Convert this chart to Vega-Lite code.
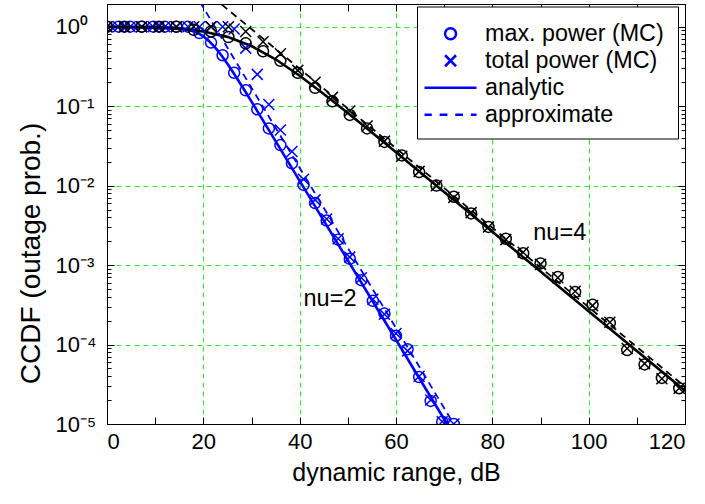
{
  "$schema": "https://vega.github.io/schema/vega-lite/v6.json",
  "width": 578,
  "height": 420,
  "autosize": {"type": "none"},
  "padding": {"left": 107, "top": 4, "right": 20, "bottom": 80},
  "background": "white",
  "config": {
    "font": "Liberation Sans",
    "view": {"stroke": "black", "strokeWidth": 1},
    "axis": {
      "domainColor": "black", "domainWidth": 1, "tickColor": "black", "tickWidth": 1,
      "labelColor": "black", "titleColor": "black", "labelFont": "Liberation Sans", "titleFont": "Liberation Sans",
      "titleFontWeight": "normal", "labelFontSize": 22, "titleFontSize": 25,
      "gridColor": "#2ee82e", "gridDash": [5, 4], "gridWidth": 1, "labelOverlap": false
    }
  },
  "datasets": {
    "curves": [
      {"nu": "nu=2", "type": "analytic", "x": 0, "p": 1.0},
      {"nu": "nu=2", "type": "analytic", "x": 10, "p": 0.99623},
      {"nu": "nu=2", "type": "analytic", "x": 14, "p": 0.9769},
      {"nu": "nu=2", "type": "analytic", "x": 16, "p": 0.9449},
      {"nu": "nu=2", "type": "analytic", "x": 18, "p": 0.8764},
      {"nu": "nu=2", "type": "analytic", "x": 19, "p": 0.8223},
      {"nu": "nu=2", "type": "analytic", "x": 20, "p": 0.7541},
      {"nu": "nu=2", "type": "analytic", "x": 21, "p": 0.6739},
      {"nu": "nu=2", "type": "analytic", "x": 22, "p": 0.5867},
      {"nu": "nu=2", "type": "analytic", "x": 23, "p": 0.4988},
      {"nu": "nu=2", "type": "analytic", "x": 24, "p": 0.4157},
      {"nu": "nu=2", "type": "analytic", "x": 25, "p": 0.3413},
      {"nu": "nu=2", "type": "analytic", "x": 26, "p": 0.2771},
      {"nu": "nu=2", "type": "analytic", "x": 27, "p": 0.2233},
      {"nu": "nu=2", "type": "analytic", "x": 28, "p": 0.1791},
      {"nu": "nu=2", "type": "analytic", "x": 29, "p": 0.143},
      {"nu": "nu=2", "type": "analytic", "x": 30, "p": 0.114},
      {"nu": "nu=2", "type": "analytic", "x": 32, "p": 0.07228},
      {"nu": "nu=2", "type": "analytic", "x": 35, "p": 0.03631},
      {"nu": "nu=2", "type": "analytic", "x": 40, "p": 0.01148},
      {"nu": "nu=2", "type": "analytic", "x": 45, "p": 0.003631},
      {"nu": "nu=2", "type": "analytic", "x": 50, "p": 0.001148},
      {"nu": "nu=2", "type": "analytic", "x": 55, "p": 0.0003631},
      {"nu": "nu=2", "type": "analytic", "x": 60, "p": 0.0001148},
      {"nu": "nu=2", "type": "analytic", "x": 65, "p": 0.00003631},
      {"nu": "nu=2", "type": "analytic", "x": 70, "p": 0.00001148},
      {"nu": "nu=2", "type": "analytic", "x": 72, "p": 0.00000724},
      {"nu": "nu=2", "type": "approximate", "x": 18, "p": 2.765},
      {"nu": "nu=2", "type": "approximate", "x": 75, "p": 0.00000497},
      {"nu": "nu=4", "type": "analytic", "x": 0, "p": 0.99508},
      {"nu": "nu=4", "type": "analytic", "x": 10, "p": 0.9731},
      {"nu": "nu=4", "type": "analytic", "x": 15, "p": 0.9391},
      {"nu": "nu=4", "type": "analytic", "x": 20, "p": 0.869},
      {"nu": "nu=4", "type": "analytic", "x": 25, "p": 0.7447},
      {"nu": "nu=4", "type": "analytic", "x": 30, "p": 0.5709},
      {"nu": "nu=4", "type": "analytic", "x": 35, "p": 0.3888},
      {"nu": "nu=4", "type": "analytic", "x": 40, "p": 0.2416},
      {"nu": "nu=4", "type": "analytic", "x": 45, "p": 0.1426},
      {"nu": "nu=4", "type": "analytic", "x": 50, "p": 0.08184},
      {"nu": "nu=4", "type": "analytic", "x": 55, "p": 0.04646},
      {"nu": "nu=4", "type": "analytic", "x": 60, "p": 0.02623},
      {"nu": "nu=4", "type": "analytic", "x": 65, "p": 0.01477},
      {"nu": "nu=4", "type": "analytic", "x": 70, "p": 0.008313},
      {"nu": "nu=4", "type": "analytic", "x": 80, "p": 0.00263},
      {"nu": "nu=4", "type": "analytic", "x": 100, "p": 0.000263},
      {"nu": "nu=4", "type": "analytic", "x": 120, "p": 0.0000263},
      {"nu": "nu=4", "type": "approximate", "x": 20, "p": 2.951},
      {"nu": "nu=4", "type": "approximate", "x": 120, "p": 0.00002951}
    ],
    "mc": [
      {"nu": "nu=2", "series": "max. power (MC)", "x": 0, "p": 1},
      {"nu": "nu=2", "series": "max. power (MC)", "x": 2.4, "p": 1},
      {"nu": "nu=2", "series": "max. power (MC)", "x": 4.8, "p": 1},
      {"nu": "nu=2", "series": "max. power (MC)", "x": 7.2, "p": 1},
      {"nu": "nu=2", "series": "max. power (MC)", "x": 9.6, "p": 1},
      {"nu": "nu=2", "series": "max. power (MC)", "x": 12, "p": 1},
      {"nu": "nu=2", "series": "max. power (MC)", "x": 14.4, "p": 1},
      {"nu": "nu=2", "series": "max. power (MC)", "x": 16.8, "p": 1},
      {"nu": "nu=2", "series": "max. power (MC)", "x": 19.2, "p": 0.832},
      {"nu": "nu=2", "series": "max. power (MC)", "x": 21.6, "p": 0.631},
      {"nu": "nu=2", "series": "max. power (MC)", "x": 24, "p": 0.437},
      {"nu": "nu=2", "series": "max. power (MC)", "x": 26.4, "p": 0.263},
      {"nu": "nu=2", "series": "max. power (MC)", "x": 28.8, "p": 0.158},
      {"nu": "nu=2", "series": "max. power (MC)", "x": 31.2, "p": 0.0912},
      {"nu": "nu=2", "series": "max. power (MC)", "x": 33.6, "p": 0.0525},
      {"nu": "nu=2", "series": "max. power (MC)", "x": 36, "p": 0.0324},
      {"nu": "nu=2", "series": "max. power (MC)", "x": 38.4, "p": 0.0191},
      {"nu": "nu=2", "series": "max. power (MC)", "x": 40.8, "p": 0.0102},
      {"nu": "nu=2", "series": "max. power (MC)", "x": 43.2, "p": 0.00603},
      {"nu": "nu=2", "series": "max. power (MC)", "x": 45.6, "p": 0.00363},
      {"nu": "nu=2", "series": "max. power (MC)", "x": 48, "p": 0.00209},
      {"nu": "nu=2", "series": "max. power (MC)", "x": 50.4, "p": 0.0012},
      {"nu": "nu=2", "series": "max. power (MC)", "x": 52.8, "p": 0.000646},
      {"nu": "nu=2", "series": "max. power (MC)", "x": 55.2, "p": 0.000355},
      {"nu": "nu=2", "series": "max. power (MC)", "x": 57.6, "p": 0.000245},
      {"nu": "nu=2", "series": "max. power (MC)", "x": 60, "p": 0.000129},
      {"nu": "nu=2", "series": "max. power (MC)", "x": 62.4, "p": 0.0000871},
      {"nu": "nu=2", "series": "max. power (MC)", "x": 64.8, "p": 0.0000389},
      {"nu": "nu=2", "series": "max. power (MC)", "x": 67.2, "p": 0.0000195},
      {"nu": "nu=2", "series": "max. power (MC)", "x": 69.6, "p": 0.0000107},
      {"nu": "nu=2", "series": "max. power (MC)", "x": 72, "p": 0.00001},
      {"nu": "nu=2", "series": "total power (MC)", "x": 0, "p": 1},
      {"nu": "nu=2", "series": "total power (MC)", "x": 2.4, "p": 1},
      {"nu": "nu=2", "series": "total power (MC)", "x": 4.8, "p": 1},
      {"nu": "nu=2", "series": "total power (MC)", "x": 7.2, "p": 1},
      {"nu": "nu=2", "series": "total power (MC)", "x": 9.6, "p": 1},
      {"nu": "nu=2", "series": "total power (MC)", "x": 12, "p": 1},
      {"nu": "nu=2", "series": "total power (MC)", "x": 14.4, "p": 1},
      {"nu": "nu=2", "series": "total power (MC)", "x": 16.8, "p": 1},
      {"nu": "nu=2", "series": "total power (MC)", "x": 19.2, "p": 1},
      {"nu": "nu=2", "series": "total power (MC)", "x": 21.6, "p": 1},
      {"nu": "nu=2", "series": "total power (MC)", "x": 24, "p": 1},
      {"nu": "nu=2", "series": "total power (MC)", "x": 26.4, "p": 0.933},
      {"nu": "nu=2", "series": "total power (MC)", "x": 28.8, "p": 0.537},
      {"nu": "nu=2", "series": "total power (MC)", "x": 31.2, "p": 0.251},
      {"nu": "nu=2", "series": "total power (MC)", "x": 33.6, "p": 0.105},
      {"nu": "nu=2", "series": "total power (MC)", "x": 36, "p": 0.0501},
      {"nu": "nu=2", "series": "total power (MC)", "x": 38.4, "p": 0.0269},
      {"nu": "nu=2", "series": "total power (MC)", "x": 40.8, "p": 0.012},
      {"nu": "nu=2", "series": "total power (MC)", "x": 43.2, "p": 0.00661},
      {"nu": "nu=2", "series": "total power (MC)", "x": 45.6, "p": 0.0038},
      {"nu": "nu=2", "series": "total power (MC)", "x": 48, "p": 0.00214},
      {"nu": "nu=2", "series": "total power (MC)", "x": 50.4, "p": 0.00126},
      {"nu": "nu=2", "series": "total power (MC)", "x": 52.8, "p": 0.000692},
      {"nu": "nu=2", "series": "total power (MC)", "x": 55.2, "p": 0.000372},
      {"nu": "nu=2", "series": "total power (MC)", "x": 57.6, "p": 0.00024},
      {"nu": "nu=2", "series": "total power (MC)", "x": 60, "p": 0.000138},
      {"nu": "nu=2", "series": "total power (MC)", "x": 62.4, "p": 0.0000832},
      {"nu": "nu=2", "series": "total power (MC)", "x": 64.8, "p": 0.0000398},
      {"nu": "nu=2", "series": "total power (MC)", "x": 67.2, "p": 0.00002},
      {"nu": "nu=2", "series": "total power (MC)", "x": 69.6, "p": 0.0000107},
      {"nu": "nu=2", "series": "total power (MC)", "x": 72, "p": 0.00001},
      {"nu": "nu=4", "series": "max. power (MC)", "x": 0, "p": 1},
      {"nu": "nu=4", "series": "max. power (MC)", "x": 3.6, "p": 1},
      {"nu": "nu=4", "series": "max. power (MC)", "x": 7.2, "p": 1},
      {"nu": "nu=4", "series": "max. power (MC)", "x": 10.8, "p": 1},
      {"nu": "nu=4", "series": "max. power (MC)", "x": 14.4, "p": 1},
      {"nu": "nu=4", "series": "max. power (MC)", "x": 18, "p": 0.912},
      {"nu": "nu=4", "series": "max. power (MC)", "x": 21.6, "p": 0.871},
      {"nu": "nu=4", "series": "max. power (MC)", "x": 25.2, "p": 0.741},
      {"nu": "nu=4", "series": "max. power (MC)", "x": 28.8, "p": 0.617},
      {"nu": "nu=4", "series": "max. power (MC)", "x": 32.4, "p": 0.49},
      {"nu": "nu=4", "series": "max. power (MC)", "x": 36, "p": 0.372},
      {"nu": "nu=4", "series": "max. power (MC)", "x": 39.6, "p": 0.263},
      {"nu": "nu=4", "series": "max. power (MC)", "x": 43.2, "p": 0.17},
      {"nu": "nu=4", "series": "max. power (MC)", "x": 46.8, "p": 0.115},
      {"nu": "nu=4", "series": "max. power (MC)", "x": 50.4, "p": 0.0776},
      {"nu": "nu=4", "series": "max. power (MC)", "x": 54, "p": 0.0525},
      {"nu": "nu=4", "series": "max. power (MC)", "x": 57.6, "p": 0.0355},
      {"nu": "nu=4", "series": "max. power (MC)", "x": 61.2, "p": 0.024},
      {"nu": "nu=4", "series": "max. power (MC)", "x": 64.8, "p": 0.0148},
      {"nu": "nu=4", "series": "max. power (MC)", "x": 68.4, "p": 0.01},
      {"nu": "nu=4", "series": "max. power (MC)", "x": 72, "p": 0.00724},
      {"nu": "nu=4", "series": "max. power (MC)", "x": 75.6, "p": 0.00447},
      {"nu": "nu=4", "series": "max. power (MC)", "x": 79.2, "p": 0.00302},
      {"nu": "nu=4", "series": "max. power (MC)", "x": 82.8, "p": 0.00214},
      {"nu": "nu=4", "series": "max. power (MC)", "x": 86.4, "p": 0.00141},
      {"nu": "nu=4", "series": "max. power (MC)", "x": 90, "p": 0.00105},
      {"nu": "nu=4", "series": "max. power (MC)", "x": 93.6, "p": 0.000708},
      {"nu": "nu=4", "series": "max. power (MC)", "x": 97.2, "p": 0.000457},
      {"nu": "nu=4", "series": "max. power (MC)", "x": 100.8, "p": 0.000316},
      {"nu": "nu=4", "series": "max. power (MC)", "x": 104.4, "p": 0.000186},
      {"nu": "nu=4", "series": "max. power (MC)", "x": 108, "p": 0.0000851},
      {"nu": "nu=4", "series": "max. power (MC)", "x": 111.6, "p": 0.0000562},
      {"nu": "nu=4", "series": "max. power (MC)", "x": 115.2, "p": 0.000038},
      {"nu": "nu=4", "series": "max. power (MC)", "x": 118.8, "p": 0.0000282},
      {"nu": "nu=4", "series": "total power (MC)", "x": 0, "p": 1},
      {"nu": "nu=4", "series": "total power (MC)", "x": 3.6, "p": 1},
      {"nu": "nu=4", "series": "total power (MC)", "x": 7.2, "p": 1},
      {"nu": "nu=4", "series": "total power (MC)", "x": 10.8, "p": 1},
      {"nu": "nu=4", "series": "total power (MC)", "x": 14.4, "p": 1},
      {"nu": "nu=4", "series": "total power (MC)", "x": 18, "p": 1},
      {"nu": "nu=4", "series": "total power (MC)", "x": 21.6, "p": 1},
      {"nu": "nu=4", "series": "total power (MC)", "x": 25.2, "p": 1},
      {"nu": "nu=4", "series": "total power (MC)", "x": 28.8, "p": 0.871},
      {"nu": "nu=4", "series": "total power (MC)", "x": 32.4, "p": 0.646},
      {"nu": "nu=4", "series": "total power (MC)", "x": 36, "p": 0.457},
      {"nu": "nu=4", "series": "total power (MC)", "x": 39.6, "p": 0.282},
      {"nu": "nu=4", "series": "total power (MC)", "x": 43.2, "p": 0.2},
      {"nu": "nu=4", "series": "total power (MC)", "x": 46.8, "p": 0.129},
      {"nu": "nu=4", "series": "total power (MC)", "x": 50.4, "p": 0.0871},
      {"nu": "nu=4", "series": "total power (MC)", "x": 54, "p": 0.0562},
      {"nu": "nu=4", "series": "total power (MC)", "x": 57.6, "p": 0.0363},
      {"nu": "nu=4", "series": "total power (MC)", "x": 61.2, "p": 0.0234},
      {"nu": "nu=4", "series": "total power (MC)", "x": 64.8, "p": 0.0151},
      {"nu": "nu=4", "series": "total power (MC)", "x": 68.4, "p": 0.01},
      {"nu": "nu=4", "series": "total power (MC)", "x": 72, "p": 0.00708},
      {"nu": "nu=4", "series": "total power (MC)", "x": 75.6, "p": 0.00457},
      {"nu": "nu=4", "series": "total power (MC)", "x": 79.2, "p": 0.00302},
      {"nu": "nu=4", "series": "total power (MC)", "x": 82.8, "p": 0.00209},
      {"nu": "nu=4", "series": "total power (MC)", "x": 86.4, "p": 0.00145},
      {"nu": "nu=4", "series": "total power (MC)", "x": 90, "p": 0.00102},
      {"nu": "nu=4", "series": "total power (MC)", "x": 93.6, "p": 0.000692},
      {"nu": "nu=4", "series": "total power (MC)", "x": 97.2, "p": 0.000468},
      {"nu": "nu=4", "series": "total power (MC)", "x": 100.8, "p": 0.000309},
      {"nu": "nu=4", "series": "total power (MC)", "x": 104.4, "p": 0.000191},
      {"nu": "nu=4", "series": "total power (MC)", "x": 108, "p": 0.0000891},
      {"nu": "nu=4", "series": "total power (MC)", "x": 111.6, "p": 0.0000575},
      {"nu": "nu=4", "series": "total power (MC)", "x": 115.2, "p": 0.0000372},
      {"nu": "nu=4", "series": "total power (MC)", "x": 118.8, "p": 0.0000282}
    ],
    "notes": [
      {"x": 46.3, "p": 0.00037, "label": "nu=2"},
      {"x": 94.0, "p": 0.00254, "label": "nu=4"}
    ]
  },
  "layer": [
    {
      "data": {"name": "curves"},
      "transform": [{"filter": "datum.type === 'analytic'"}],
      "mark": {"type": "line", "strokeWidth": 2.6, "clip": true},
      "encoding": {
        "x": {
          "field": "x", "type": "quantitative",
          "scale": {"domain": [0, 120], "nice": false, "zero": false},
          "axis": {
            "orient": "bottom",
            "values": [0, 10, 20, 30, 40, 50, 60, 70, 80, 90, 100, 110, 120],
            "labelExpr": "datum.value % 20 === 0 ? datum.label : ''",
            "labelFontSize": 22,
            "grid": true,
            "gridOpacity": {"condition": {"test": "datum.value % 20 === 0 && datum.value > 0 && datum.value < 120", "value": 1}, "value": 0},
            "tickSize": -7,
            "labelPadding": 14,
            "title": "dynamic range, dB",
            "titleY": 56,
            "titleBaseline": "alphabetic"
          }
        },
        "y": {
          "field": "p", "type": "quantitative",
          "scale": {"type": "log", "domain": [0.00001, 1.93], "nice": false},
          "axis": {
            "orient": "left",
            "values": [0.00001, 0.00002, 0.00003, 0.00004, 0.00005, 0.00006, 0.00007, 0.00008, 0.00009, 0.0001, 0.0002, 0.0003, 0.0004, 0.0005, 0.0006, 0.0007, 0.0008, 0.0009, 0.001, 0.002, 0.003, 0.004, 0.005, 0.006, 0.007, 0.008, 0.009, 0.01, 0.02, 0.03, 0.04, 0.05, 0.06, 0.07, 0.08, 0.09, 0.1, 0.2, 0.3, 0.4, 0.5, 0.6, 0.7, 0.8, 0.9, 1],
            "labelExpr": "(abs(log(datum.value)/LN10 - round(log(datum.value)/LN10)) > 0.001) ? '' : (datum.value > 0.5 ? '10⁰' : datum.value > 0.05 ? '10⁻¹' : datum.value > 0.005 ? '10⁻²' : datum.value > 0.0005 ? '10⁻³' : datum.value > 0.00005 ? '10⁻⁴' : '10⁻⁵')",
            "labelAlign": "left",
            "labelBaseline": "middle",
            "labelPadding": 59,
            "grid": true,
            "gridOpacity": {"condition": {"test": "abs(log(datum.value)/LN10 - round(log(datum.value)/LN10)) < 0.001 && datum.value > 0.00005", "value": 1}, "value": 0},
            "tickSize": {"condition": {"test": "abs(log(datum.value)/LN10 - round(log(datum.value)/LN10)) < 0.001", "value": -7}, "value": -4},
            "title": "CCDF (outage prob.)",
            "titleFontSize": 28,
            "titleX": -76,
            "titleY": 249,
            "titleBaseline": "middle"
          }
        },
        "color": {"field": "nu", "type": "nominal", "scale": {"domain": ["nu=2", "nu=4"], "range": ["#0000ff", "#000000"]}, "legend": null}
      }
    },
    {
      "data": {"name": "curves"},
      "transform": [{"filter": "datum.type === 'approximate'"}],
      "mark": {"type": "line", "strokeWidth": 1.8, "strokeDash": [7, 5], "clip": true},
      "encoding": {
        "x": {
          "field": "x", "type": "quantitative",
          "scale": {"domain": [0, 120], "nice": false, "zero": false},
          "axis": {
            "orient": "top",
            "values": [0, 10, 20, 30, 40, 50, 60, 70, 80, 90, 100, 110, 120],
            "labels": false, "grid": false, "tickSize": -7, "title": null
          }
        },
        "y": {
          "field": "p", "type": "quantitative",
          "scale": {"type": "log", "domain": [0.00001, 1.93], "nice": false},
          "axis": {
            "orient": "right",
            "values": [0.00001, 0.00002, 0.00003, 0.00004, 0.00005, 0.00006, 0.00007, 0.00008, 0.00009, 0.0001, 0.0002, 0.0003, 0.0004, 0.0005, 0.0006, 0.0007, 0.0008, 0.0009, 0.001, 0.002, 0.003, 0.004, 0.005, 0.006, 0.007, 0.008, 0.009, 0.01, 0.02, 0.03, 0.04, 0.05, 0.06, 0.07, 0.08, 0.09, 0.1, 0.2, 0.3, 0.4, 0.5, 0.6, 0.7, 0.8, 0.9, 1],
            "labels": false, "grid": false, "title": null,
            "tickSize": {"condition": {"test": "abs(log(datum.value)/LN10 - round(log(datum.value)/LN10)) < 0.001", "value": -7}, "value": -4}
          }
        },
        "color": {"field": "nu", "type": "nominal", "scale": {"domain": ["nu=2", "nu=4"], "range": ["#0000ff", "#000000"]}, "legend": null}
      }
    },
    {
      "data": {"name": "mc"},
      "mark": {"type": "point", "filled": false, "opacity": 1, "strokeWidth": 1.5, "size": 812, "clip": true},
      "encoding": {
        "x": {"field": "x", "type": "quantitative", "scale": {"domain": [0, 120], "nice": false, "zero": false}, "axis": null},
        "y": {"field": "p", "type": "quantitative", "scale": {"type": "log", "domain": [0.00001, 1.93], "nice": false}, "axis": null},
        "color": {"field": "nu", "type": "nominal", "scale": {"domain": ["nu=2", "nu=4"], "range": ["#0000ff", "#000000"]}, "legend": null},
        "shape": {
          "field": "series", "type": "nominal",
          "scale": {
            "domain": ["max. power (MC)", "total power (MC)", "analytic", "approximate"],
            "range": [
              "M-0.386,0A0.386,0.386 0 1,0 0.386,0A0.386,0.386 0 1,0 -0.386,0Z",
              "M-0.386,-0.386L0.386,0.386M-0.386,0.386L0.386,-0.386",
              "M-1.825,0L1.825,0",
              "M-1.825,0L-1.314,0M-0.767,0L-0.219,0M0.329,0L0.876,0M1.424,0L1.825,0"
            ]
          },
          "legend": {
            "title": " ",
            "titleOrient": "right",
            "titlePadding": 2,
            "titleFontSize": 20,
            "orient": "none",
            "legendX": 310,
            "legendY": 2.5,
            "padding": 11.75,
            "strokeColor": "black",
            "fillColor": "white",
            "cornerRadius": 0,
            "symbolSize": 812,
            "rowPadding": 0,
            "symbolOffset": 6.3,
            "labelOffset": 19,
            "symbolStrokeColor": "#0000ff",
            "symbolFillColor": "transparent",
            "symbolOpacity": 1,
            "symbolStrokeWidth": 2.5,
            "labelFontSize": 23.3,
            "labelColor": "black",
            "labelFont": "Liberation Sans",
            "labelLimit": 400
          }
        }
      }
    },
    {
      "data": {"name": "notes"},
      "mark": {"type": "text", "fontSize": 23.5, "font": "Liberation Sans", "color": "black", "align": "center", "baseline": "middle"},
      "encoding": {
        "x": {"field": "x", "type": "quantitative", "scale": {"domain": [0, 120], "nice": false, "zero": false}, "axis": null},
        "y": {"field": "p", "type": "quantitative", "scale": {"type": "log", "domain": [0.00001, 1.93], "nice": false}, "axis": null},
        "text": {"field": "label"}
      }
    }
  ],
  "resolve": {"axis": {"x": "independent", "y": "independent"}}
}
